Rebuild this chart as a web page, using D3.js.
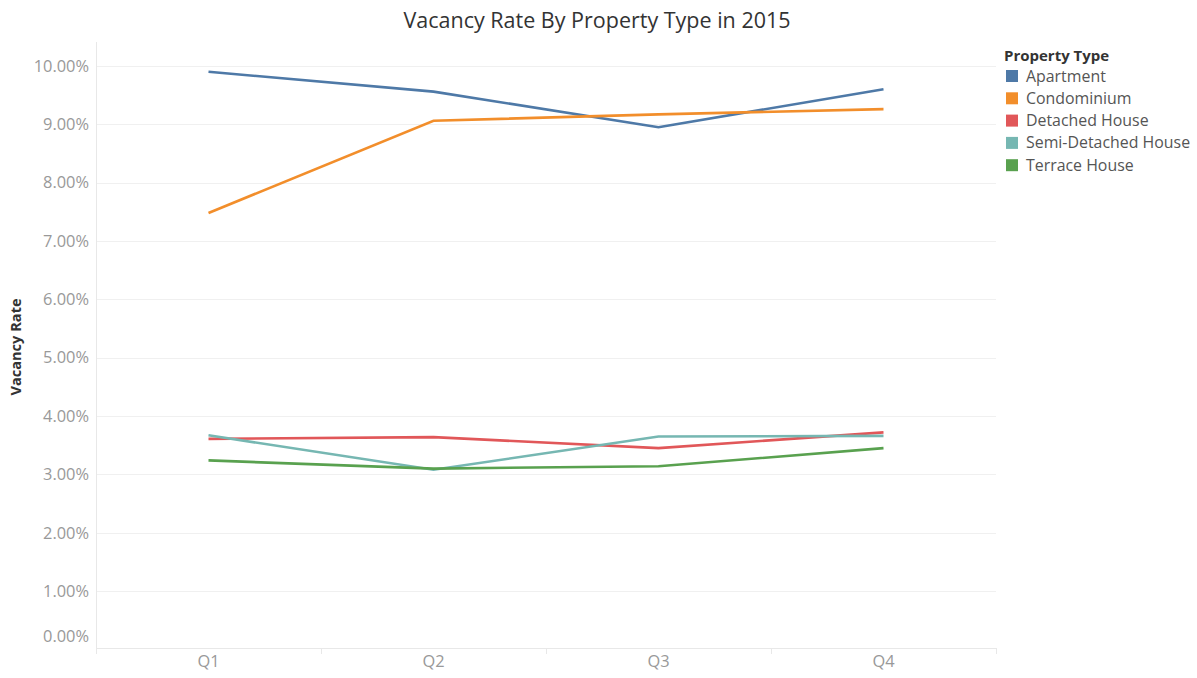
<!DOCTYPE html>
<html><head><meta charset="utf-8">
<script src="https://cdn.jsdelivr.net/npm/d3@7"></script>
<style>body{margin:0;background:#fff;}svg{display:block;font-family:"Open Sans","Noto Sans",sans-serif;}</style>
</head><body><svg id="c" width="1197" height="678"></svg>
<script>
const quarters = ["Q1","Q2","Q3","Q4"];
const apartment = [9.90, 9.56, 8.95, 9.60];
const condominium = [7.48, 9.06, 9.17, 9.26];
const detached = [3.61, 3.64, 3.45, 3.72];
const semiDetached = [3.67, 3.08, 3.65, 3.66];
const terrace = [3.24, 3.10, 3.14, 3.45];
const seriesNames = ["Apartment","Condominium","Detached House","Semi-Detached House","Terrace House"];
const seriesValues = [apartment, condominium, detached, semiDetached, terrace];
const colors = ["#4e79a7","#f28e2b","#e15759","#76b7b2","#59a14f"];
const yTicks = [0,1,2,3,4,5,6,7,8,9,10];

const svg = d3.select("#c");
const L = 96, R = 996, T = 42, B = 649.5;
const x = d3.scaleBand().domain(quarters).range([L, R]);
const y = d3.scaleLinear().domain([0, 10.41]).range([B, T]);

// gridlines
svg.append("g").selectAll("line").data(yTicks.filter(d=>d>0)).join("line")
  .attr("x1", L).attr("x2", R).attr("y1", d=>Math.round(y(d))+0.5).attr("y2", d=>Math.round(y(d))+0.5)
  .attr("stroke", "#f0f0f0").attr("stroke-width", 1);

// axes lines
svg.append("line").attr("x1", L+0.5).attr("x2", L+0.5).attr("y1", T).attr("y2", B)
  .attr("stroke", "#e8e8e8");
svg.append("line").attr("x1", L).attr("x2", R).attr("y1", 648.5).attr("y2", 648.5)
  .attr("stroke", "#e8e8e8");

// y axis
const yAxis = svg.append("g").attr("transform", `translate(${L},0)`)
  .call(d3.axisLeft(y).tickValues(yTicks).tickFormat(d => d.toFixed(2) + "%").tickSize(0).tickPadding(7));
yAxis.select(".domain").remove();
yAxis.selectAll("text").attr("fill", "#999").style("font-size", "16.4px")
  .style("font-family", '"Open Sans","Noto Sans",sans-serif')
  .attr("dy", d => d === 0 ? "-0.5em" : "0.32em");

// x axis
const xAxis = svg.append("g").attr("transform", `translate(0,648.5)`)
  .call(d3.axisBottom(x).tickSize(0).tickPadding(7));
xAxis.select(".domain").remove();
xAxis.selectAll("text").attr("fill", "#999").style("font-size", "16.4px")
  .style("font-family", '"Open Sans","Noto Sans",sans-serif');
// band boundary ticks
const bounds = quarters.map(q => x(q)).concat([R]);
svg.append("g").selectAll("line").data(bounds).join("line")
  .attr("x1", d=>Math.round(d)+0.5).attr("x2", d=>Math.round(d)+0.5).attr("y1", 648).attr("y2", 654)
  .attr("stroke", "#e8e8e8");

// lines
const line = d3.line().x((d,i) => x(quarters[i]) + x.bandwidth()/2).y(d => y(d));
svg.append("g").selectAll("path").data(seriesValues).join("path")
  .attr("d", d => line(d)).attr("fill", "none")
  .attr("stroke", (d,i) => colors[i]).attr("stroke-width", 2.6)
  .attr("stroke-linejoin", "miter");

// title
svg.append("text").attr("x", 597).attr("y", 28).attr("text-anchor", "middle")
  .attr("fill", "#333").style("font-size", "21.5px").text("Vacancy Rate By Property Type in 2015");

// y label
svg.append("text").attr("transform", "translate(21,347) rotate(-90)").attr("text-anchor", "middle")
  .attr("fill", "#333").style("font-size", "14.6px").style("font-weight", "bold").text("Vacancy Rate");

// legend
const lg = svg.append("g");
lg.append("text").attr("x", 1004).attr("y", 61).attr("fill", "#333")
  .style("font-size", "15px").style("font-weight", "bold").text("Property Type");
const items = lg.selectAll("g.item").data(seriesNames).join("g").attr("class", "item")
  .attr("transform", (d,i) => `translate(1006,${70 + i*22.3})`);
items.append("rect").attr("width", 12).attr("height", 12).attr("fill", (d,i) => colors[i]);
items.append("text").attr("x", 20).attr("y", 11.5).attr("fill", "#555")
  .style("font-size", "15.9px").text(d => d);
</script></body></html>
